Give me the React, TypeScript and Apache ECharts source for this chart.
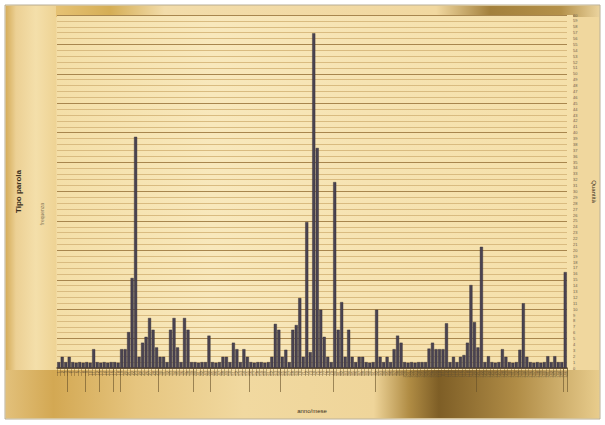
import React, { useEffect, useRef } from "react";
import * as echarts from "echarts";

const values = [
  1.0, 1.9, 1.0, 1.9, 1.0, 0.9, 1.0, 0.9, 1.0, 0.9,
  3.2, 1.0, 0.9, 1.0, 0.9, 1.0, 1.0, 0.9, 3.2, 3.2,
  6.1, 15.3, 39.3, 1.9, 4.3, 5.3, 8.5, 6.5, 3.5, 1.9,
  1.9, 1.0, 6.5, 8.5, 3.5, 1.0, 8.5, 6.5, 1.0, 1.0,
  0.9, 1.0, 1.0, 5.5, 1.0, 0.9, 1.0, 1.9, 1.9, 1.0,
  4.3, 3.2, 1.0, 3.2, 1.9, 1.0, 0.9, 1.0, 1.0, 0.9,
  1.0, 1.9, 7.5, 6.5, 1.9, 3.1, 1.0, 6.5, 7.3, 11.9,
  1.9, 24.8, 2.7, 56.9, 37.4, 9.9, 5.3, 1.9, 1.0, 31.6,
  6.5, 11.2, 1.9, 6.5, 1.9, 1.0, 1.9, 1.9, 1.0, 0.9,
  1.0, 9.9, 1.9, 1.0, 1.9, 1.0, 3.2, 5.5, 4.3, 1.0,
  0.9, 1.0, 0.9, 1.0, 1.0, 1.0, 3.3, 4.3, 3.2, 3.2,
  3.2, 7.6, 1.0, 1.9, 1.0, 1.9, 2.2, 4.3, 14.1, 7.8,
  3.5, 20.6, 1.0, 2.0, 1.0, 0.9, 1.0, 3.2, 1.9, 1.0,
  0.9, 1.0, 3.1, 11.0, 1.9, 1.0, 0.9, 1.0, 0.9, 1.0,
  2.0, 1.0, 2.0, 1.0, 1.0, 16.3,
];
const categories = values.map((_, i) => String(i + 1));
const longTickIndices = [3, 8, 12, 16, 18, 29, 39, 44, 55, 64, 79, 91, 120, 145];
const yMax = 60;
const leftTitle = "Tipo parola";
const leftSubtitle = "frequenza";
const rightTitle = "Quantità";
const bottomTitle = "anno/mese";

const G = echarts.graphic;

export default function App() {
  const ref = useRef<HTMLDivElement>(null);
  useEffect(() => {
    if (!ref.current) return;
    const chart = echarts.init(ref.current, null, { renderer: "svg" });
    const longSet = new Set(longTickIndices);
    chart.setOption({
      animation: false,
      backgroundColor: "#ffffff",
      textStyle: { fontFamily: "Liberation Sans, Arial, sans-serif" },
      graphic: {
        elements: [
          {
            type: "rect", z: -20, silent: true,
            shape: { x: 5, y: 5, width: 595, height: 414 },
            style: { fill: "#f1d9a0", stroke: "#b9ae96", lineWidth: 1 },
          },
          {
            type: "rect", z: -19, silent: true,
            shape: { x: 6, y: 6, width: 50, height: 366 },
            style: {
              fill: new G.LinearGradient(0, 0, 1, 0, [
                { offset: 0, color: "#d6ae5c" },
                { offset: 0.2, color: "#ecd094" },
                { offset: 0.6, color: "#f4dfaa" },
                { offset: 1, color: "#eed394" },
              ]),
            },
          },
          {
            type: "rect", z: -19, silent: true,
            shape: { x: 56, y: 6, width: 543, height: 11 },
            style: {
              fill: new G.LinearGradient(0, 0, 1, 0, [
                { offset: 0, color: "#e6c274" },
                { offset: 0.1, color: "#d5ae56" },
                { offset: 0.2, color: "#f2dcaa" },
                { offset: 0.7, color: "#f1d8a0" },
                { offset: 0.8, color: "#a3803c" },
                { offset: 0.93, color: "#b4914a" },
                { offset: 1, color: "#ead29c" },
              ]),
            },
          },
          {
            type: "rect", z: -19, silent: true,
            shape: { x: 6, y: 370, width: 593, height: 48 },
            style: {
              fill: new G.LinearGradient(0, 0, 1, 0, [
                { offset: 0, color: "#e2c07a" },
                { offset: 0.08, color: "#d3a853" },
                { offset: 0.22, color: "#e6c57f" },
                { offset: 0.4, color: "#f1d9a0" },
                { offset: 0.62, color: "#efd59a" },
                { offset: 0.68, color: "#b08c44" },
                { offset: 0.73, color: "#7e5e26" },
                { offset: 0.86, color: "#b08c46" },
                { offset: 1, color: "#e8cc8c" },
              ]),
            },
          },
          {
            type: "rect", z: -19, silent: true,
            shape: { x: 573, y: 17, width: 26, height: 353 },
            style: { fill: "#f0d79e" },
          },
          {
            type: "rect", z: -18, silent: true,
            shape: { x: 57, y: 15, width: 516, height: 355 },
            style: {
              fill: new G.LinearGradient(0, 0, 1, 0, [
                { offset: 0, color: "#f4dfa8" },
                { offset: 0.3, color: "#f8e8bc" },
                { offset: 0.6, color: "#f6e3b2" },
                { offset: 1, color: "#f5e0aa" },
              ]),
            },
          },
          {
            type: "text", z: 10, silent: true,
            x: 42, y: 214, rotation: Math.PI / 2,
            style: {
              text: leftSubtitle, fill: "#8a7a5a", fontSize: 5,
              align: "center", verticalAlign: "middle",
              fontFamily: "Liberation Sans, Arial, sans-serif",
            },
          },
        ],
      },
      grid: { left: 57, right: 32, top: 15, bottom: 57, containLabel: false },
      xAxis: [
        {
          type: "category",
          data: categories,
          name: bottomTitle,
          nameLocation: "middle",
          nameGap: 40,
          nameTextStyle: { fontSize: 6, color: "#3a3020" },
          axisLine: { show: true, lineStyle: { color: "#5a4a30", width: 1.5 } },
          axisTick: { show: true, interval: 0, length: 8, lineStyle: { color: "rgba(110,85,45,0.45)" } },
          axisLabel: { interval: 0, rotate: 90, fontSize: 4, color: "#5b4c34", margin: 3 },
        },
        {
          type: "category",
          data: categories,
          position: "bottom",
          axisLine: { show: false },
          axisTick: {
            show: true,
            interval: (i: number) => longSet.has(i),
            length: 24,
            lineStyle: { color: "rgba(100,78,40,0.6)" },
          },
          axisLabel: { show: false },
        },
      ],
      yAxis: [
        {
          type: "value",
          min: 0,
          max: yMax,
          interval: 5,
          position: "left",
          name: leftTitle,
          nameLocation: "middle",
          nameGap: 35,
          nameTextStyle: { fontSize: 8, fontWeight: "bold", color: "#3a3020" },
          axisLine: { show: false },
          axisTick: { show: false },
          axisLabel: { show: false },
          splitLine: { show: true, lineStyle: { color: "#a8864e", width: 1 } },
          minorTick: { show: false, splitNumber: 5 },
          minorSplitLine: { show: true, lineStyle: { color: "#d9bb80", width: 1 } },
        },
        {
          type: "value",
          min: 0,
          max: yMax,
          interval: 1,
          position: "right",
          name: rightTitle,
          nameLocation: "middle",
          nameGap: 24,
          nameRotate: -90,
          nameTextStyle: { fontSize: 6, color: "#3a3020" },
          axisLine: { show: false },
          axisTick: { show: false },
          axisLabel: { fontSize: 4, color: "#6e6250", margin: 6 },
          splitLine: { show: false },
        },
      ],
      series: [
        {
          type: "bar",
          xAxisIndex: 0,
          yAxisIndex: 0,
          data: values,
          barCategoryGap: "12%",
          itemStyle: { color: "#4a4351", borderColor: "#2f2a33", borderWidth: 0.4 },
        },
      ],
    });
    return () => chart.dispose();
  }, []);
  return (
    <div
      ref={ref}
      style={{ position: "fixed", left: 0, top: 0, width: 605, height: 425 }}
    />
  );
}
